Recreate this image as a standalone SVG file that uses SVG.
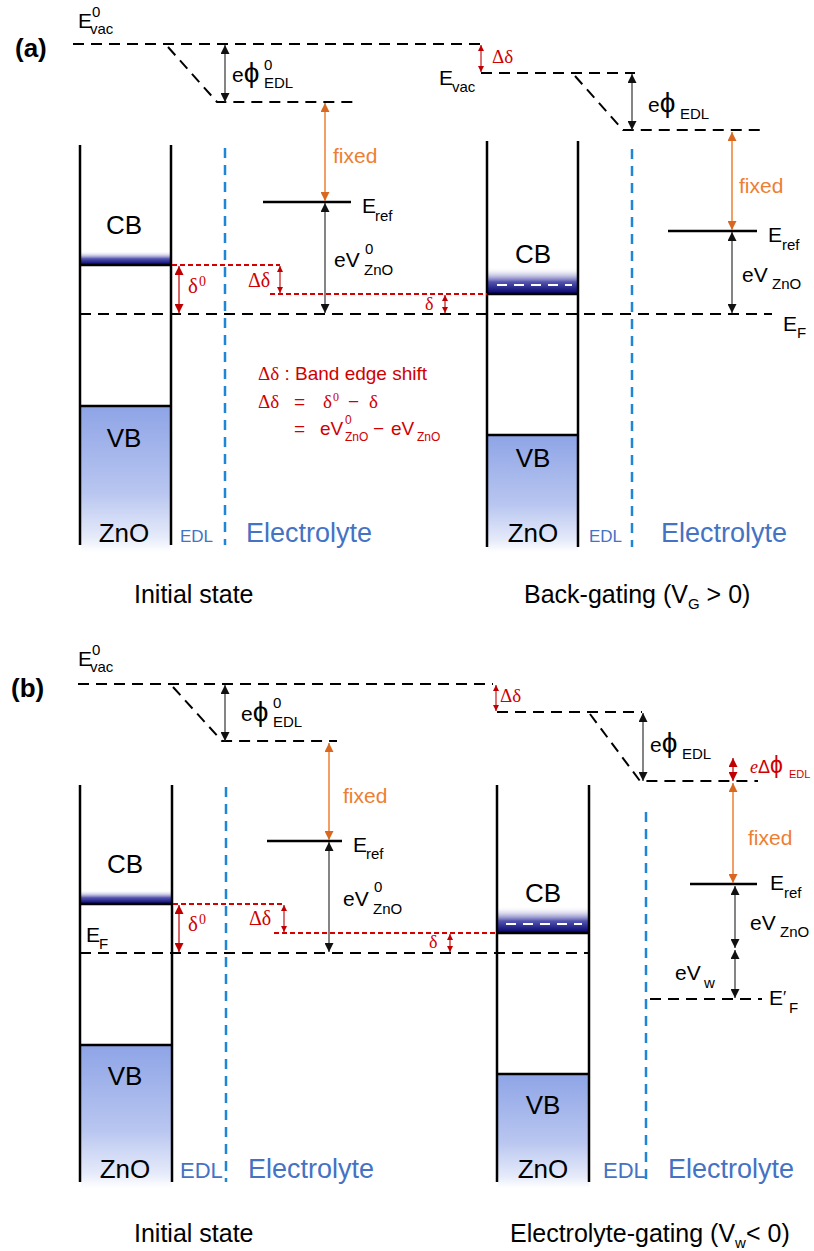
<svg xmlns="http://www.w3.org/2000/svg" width="814" height="1251" viewBox="0 0 814 1251">
<style>
.t{font-family:"Liberation Sans",Arial,"DejaVu Sans",sans-serif;fill:#000}
.s{font-family:"Liberation Serif","Times New Roman","DejaVu Serif",serif}
.red{fill:#D00000}
.org{fill:#EE7E32}
.blu{fill:#4472C4}
.big{font-size:26px}
.lb{font-size:21px}
.sb{font-size:15px}
.phi{font-size:28px}
.dash{stroke:#000;stroke-width:2;stroke-dasharray:11 7;fill:none}
.rdash{stroke:#D40000;stroke-width:1.8;stroke-dasharray:5 3;fill:none}
.bdash{stroke:#1F86D6;stroke-width:2.5;stroke-dasharray:10 7;fill:none}
.wdash{stroke:#fff;stroke-width:2;stroke-dasharray:10 7;fill:none}
.wall{stroke:#000;stroke-width:2.5;fill:none}
.solid{stroke:#000;stroke-width:2.5;fill:none}
.ab{stroke:#333;stroke-width:1.2;fill:none;marker-start:url(#hb);marker-end:url(#hb)}
.ao{stroke:#EE7E32;stroke-width:1.5;fill:none;marker-start:url(#ho);marker-end:url(#ho)}
.ar{stroke:#C00000;stroke-width:1.2;fill:none;marker-start:url(#hr);marker-end:url(#hr)}
.ars{stroke:#C00000;stroke-width:1.1;fill:none;marker-start:url(#hrs);marker-end:url(#hrs)}
</style>
<defs>
<marker id="hb" viewBox="0 0 10 10" refX="10" refY="5" markerWidth="9" markerHeight="9" markerUnits="userSpaceOnUse" orient="auto-start-reverse"><path d="M0,0L10,5L0,10z" fill="#111"/></marker>
<marker id="ho" viewBox="0 0 10 10" refX="10" refY="5" markerWidth="9" markerHeight="9" markerUnits="userSpaceOnUse" orient="auto-start-reverse"><path d="M0,0L10,5L0,10z" fill="#D8681F"/></marker>
<marker id="hr" viewBox="0 0 10 10" refX="10" refY="5" markerWidth="9" markerHeight="9" markerUnits="userSpaceOnUse" orient="auto-start-reverse"><path d="M0,0L10,5L0,10z" fill="#C00000"/></marker>
<marker id="hrs" viewBox="0 0 10 10" refX="10" refY="5" markerWidth="6" markerHeight="6" markerUnits="userSpaceOnUse" orient="auto-start-reverse"><path d="M0,0L10,5L0,10z" fill="#C00000"/></marker>
<linearGradient id="vbg" x1="0" y1="0" x2="0" y2="1"><stop offset="0" stop-color="#8EA4E6"/><stop offset="0.6" stop-color="#B9C6F0"/><stop offset="0.9" stop-color="#E6EBFA"/><stop offset="1" stop-color="#FFFFFF"/></linearGradient>
<linearGradient id="cbg" x1="0" y1="0" x2="0" y2="1"><stop offset="0" stop-color="#FFFFFF" stop-opacity="0"/><stop offset="0.55" stop-color="#5555B0"/><stop offset="1" stop-color="#00006A"/></linearGradient>
</defs>
<rect width="814" height="1251" fill="#fff"/>

<!-- ================= PANEL (a) ================= -->
<g id="panel-a-label"><text class="t" x="15" y="57" font-size="26" font-weight="bold">(a)</text></g>

<g id="a-zno-initial">
<rect x="81" y="406" width="90" height="146" fill="url(#vbg)"/>
<rect x="81" y="251" width="90" height="14" fill="url(#cbg)"/>
<line class="wall" x1="80" y1="145" x2="80" y2="545"/>
<line class="wall" x1="171" y1="145" x2="171" y2="545"/>
<line class="solid" x1="81" y1="265" x2="171" y2="265"/>
<line class="solid" x1="81" y1="406" x2="171" y2="406"/>
<text class="t big" x="124" y="234" text-anchor="middle">CB</text>
<text class="t big" x="124" y="447" text-anchor="middle">VB</text>
<text class="t big" x="124" y="542" text-anchor="middle">ZnO</text>
</g>
<g id="a-edl-initial">
<line class="bdash" x1="225" y1="148" x2="225" y2="545"/>
<text class="t blu" x="180" y="542" font-size="17">EDL</text>
<text class="t blu" x="246" y="542" font-size="27">Electrolyte</text>
</g>

<g id="a-zno-gated">
<rect x="488" y="435" width="90" height="117" fill="url(#vbg)"/>
<rect x="488" y="267" width="90" height="27" fill="url(#cbg)"/>
<line class="wdash" x1="497" y1="285" x2="572" y2="285"/>
<line class="wall" x1="487" y1="141" x2="487" y2="547"/>
<line class="wall" x1="578" y1="141" x2="578" y2="547"/>
<line class="solid" x1="488" y1="294" x2="578" y2="294"/>
<line class="solid" x1="488" y1="435" x2="578" y2="435"/>
<text class="t big" x="533" y="263" text-anchor="middle">CB</text>
<text class="t big" x="533" y="467" text-anchor="middle">VB</text>
<text class="t big" x="533" y="542" text-anchor="middle">ZnO</text>
</g>
<g id="a-edl-gated">
<line class="bdash" x1="632" y1="149" x2="632" y2="547"/>
<text class="t blu" x="589" y="542" font-size="17">EDL</text>
<text class="t blu" x="661" y="542" font-size="27">Electrolyte</text>
</g>

<g id="a-levels">
<path class="dash" d="M73,44H480"/>
<path class="dash" d="M168,47L217,102H353"/>
<path class="dash" d="M481,73H635"/>
<path class="dash" d="M575,76L623,130H760"/>
<line class="solid" x1="263" y1="202" x2="351" y2="202"/>
<line class="solid" x1="668" y1="231" x2="757" y2="231"/>
<path class="dash" d="M80,314H772"/>
<path class="rdash" d="M172,265H280"/>
<path class="rdash" d="M270,294H487"/>
</g>

<g id="a-level-labels">
<text class="t lb" x="78" y="28">E</text><text class="t sb" x="92" y="17">0</text><text class="t sb" x="90" y="34">vac</text>
<text class="t lb" x="439" y="85">E</text><text class="t sb" x="452" y="92">vac</text>
<text class="t lb" x="232" y="82">e<tspan class="phi">ϕ</tspan></text><text class="t sb" x="264" y="70">0</text><text class="t sb" x="264" y="88">EDL</text>
<text class="t lb" x="648" y="112">e<tspan class="phi">ϕ</tspan></text><text class="t sb" x="680" y="119">EDL</text>
<text class="t lb org" x="333" y="163">fixed</text>
<text class="t lb org" x="739" y="193">fixed</text>
<text class="t lb" x="362" y="213">E</text><text class="t sb" x="375" y="221">ref</text>
<text class="t lb" x="768" y="242">E</text><text class="t sb" x="782" y="250">ref</text>
<text class="t lb" x="334" y="267">eV</text><text class="t sb" x="365" y="254">0</text><text class="t sb" x="364" y="275">ZnO</text>
<text class="t lb" x="742" y="282">eV</text><text class="t sb" x="772" y="289">ZnO</text>
<text class="t lb" x="783" y="331">E</text><text class="t sb" x="797" y="338">F</text>
<text class="s red" x="188" y="293" font-size="21">δ</text><text class="s red" x="199" y="286" font-size="14">0</text>
<text class="s red" x="248" y="287" font-size="20">Δδ</text>
<text class="s red" x="425" y="310" font-size="18">δ</text>
<text class="s red" x="492" y="63" font-size="19">Δδ</text>
</g>

<g id="a-note" class="red">
<text x="258" y="380" font-size="19"><tspan class="s">Δδ</tspan><tspan class="t red"> : Band edge shift</tspan></text>
<text class="s red" x="258" y="408" font-size="19">Δδ</text>
<text class="t red" x="294" y="408" font-size="19">=</text>
<text class="s red" x="323" y="408" font-size="19">δ</text><text class="s red" x="333" y="401" font-size="12">0</text>
<text class="t red" x="348" y="408" font-size="19">−</text>
<text class="s red" x="369" y="408" font-size="19">δ</text>
<text class="t red" x="294" y="435" font-size="19">=</text>
<text class="t red" x="320" y="435" font-size="19">eV</text><text class="t red" x="345" y="424" font-size="12">0</text><text class="t red" x="345" y="441" font-size="12">ZnO</text>
<text class="t red" x="373" y="435" font-size="19">−</text>
<text class="t red" x="391" y="435" font-size="19">eV</text><text class="t red" x="417" y="441" font-size="12">ZnO</text>
</g>

<g id="a-captions">
<text class="t" x="134" y="603" font-size="25">Initial state</text>
<text class="t" x="524" y="603" font-size="25">Back-gating (V<tspan font-size="15" dy="6">G</tspan><tspan dy="-6"> &gt; 0)</tspan></text>
</g>

<!-- ================= PANEL (b) ================= -->
<g id="panel-b-label"><text class="t" x="11" y="697" font-size="26" font-weight="bold">(b)</text></g>

<g id="b-zno-initial">
<rect x="81" y="1045" width="91" height="143" fill="url(#vbg)"/>
<rect x="81" y="890" width="91" height="14" fill="url(#cbg)"/>
<line class="wall" x1="80" y1="785" x2="80" y2="1182"/>
<line class="wall" x1="172" y1="785" x2="172" y2="1182"/>
<line class="solid" x1="81" y1="904" x2="172" y2="904"/>
<line class="solid" x1="81" y1="1045" x2="172" y2="1045"/>
<text class="t big" x="125" y="873" text-anchor="middle">CB</text>
<text class="t big" x="125" y="1085" text-anchor="middle">VB</text>
<text class="t big" x="125" y="1178" text-anchor="middle">ZnO</text>
</g>
<g id="b-edl-initial">
<line class="bdash" x1="226" y1="787" x2="226" y2="1182"/>
<text class="t blu" x="180" y="1178" font-size="22">EDL</text>
<text class="t blu" x="248" y="1178" font-size="27">Electrolyte</text>
</g>

<g id="b-zno-gated">
<rect x="498" y="1074" width="91" height="114" fill="url(#vbg)"/>
<rect x="498" y="906" width="91" height="27" fill="url(#cbg)"/>
<line class="wdash" x1="506" y1="924" x2="582" y2="924"/>
<line class="wall" x1="497" y1="785" x2="497" y2="1182"/>
<line class="wall" x1="589" y1="785" x2="589" y2="1182"/>
<line class="solid" x1="498" y1="933" x2="589" y2="933"/>
<line class="solid" x1="498" y1="1074" x2="589" y2="1074"/>
<text class="t big" x="543" y="902" text-anchor="middle">CB</text>
<text class="t big" x="543" y="1114" text-anchor="middle">VB</text>
<text class="t big" x="543" y="1178" text-anchor="middle">ZnO</text>
</g>
<g id="b-edl-gated">
<line class="bdash" x1="646" y1="812" x2="646" y2="1182"/>
<text class="t blu" x="603" y="1178" font-size="22">EDL</text>
<text class="t blu" x="668" y="1178" font-size="27">Electrolyte</text>
</g>

<g id="b-levels">
<path class="dash" d="M78,684H493"/>
<path class="dash" d="M173,687L222,741H337"/>
<path class="dash" d="M497,712H642"/>
<path class="dash" d="M590,714L640,781H758"/>
<line class="solid" x1="267" y1="841" x2="342" y2="841"/>
<line class="solid" x1="690" y1="884" x2="757" y2="884"/>
<path class="dash" d="M80,953H588"/>
<path class="dash" d="M650,999H762"/>
<path class="rdash" d="M173,904H284"/>
<path class="rdash" d="M274,933H497"/>
</g>

<g id="b-level-labels">
<text class="t lb" x="78" y="666">E</text><text class="t sb" x="92" y="655">0</text><text class="t sb" x="90" y="672">vac</text>
<text class="t lb" x="241" y="721">e<tspan class="phi">ϕ</tspan></text><text class="t sb" x="273" y="708">0</text><text class="t sb" x="273" y="727">EDL</text>
<text class="t lb" x="650" y="752">e<tspan class="phi">ϕ</tspan></text><text class="t sb" x="682" y="759">EDL</text>
<text class="red" x="750" y="773" font-size="18"><tspan class="s" font-style="italic">e</tspan><tspan class="t red">Δ</tspan><tspan class="t red" font-size="23">ϕ</tspan></text><text class="t red" x="789" y="778" font-size="11">EDL</text>
<text class="t lb org" x="343" y="803">fixed</text>
<text class="t lb org" x="748" y="845">fixed</text>
<text class="t lb" x="353" y="852">E</text><text class="t sb" x="366" y="859">ref</text>
<text class="t lb" x="770" y="890">E</text><text class="t sb" x="784" y="898">ref</text>
<text class="t lb" x="343" y="906">eV</text><text class="t sb" x="374" y="892">0</text><text class="t sb" x="373" y="914">ZnO</text>
<text class="t lb" x="750" y="930">eV</text><text class="t sb" x="780" y="937">ZnO</text>
<text class="t lb" x="675" y="980">eV</text><text class="t sb" x="704" y="988">w</text>
<text class="t lb" x="86" y="942">E</text><text class="t sb" x="99" y="949">F</text>
<text class="t lb" x="769" y="1005">E<tspan font-size="17" dy="-2">′</tspan></text><text class="t sb" x="789" y="1013">F</text>
<text class="s red" x="188" y="931" font-size="21">δ</text><text class="s red" x="199" y="924" font-size="14">0</text>
<text class="s red" x="249" y="925" font-size="20">Δδ</text>
<text class="s red" x="429" y="948" font-size="18">δ</text>
<text class="s red" x="500" y="702" font-size="19">Δδ</text>
</g>

<g id="b-captions">
<text class="t" x="134" y="1242" font-size="25">Initial state</text>
<text class="t" x="510" y="1242" font-size="25">Electrolyte-gating (V<tspan font-size="15" dy="6">w</tspan><tspan dy="-6">&lt; 0)</tspan></text>
</g>

<!-- ================= CONNECTORS ================= -->
<g id="connectors">
<line class="ab" x1="225" y1="45" x2="225" y2="102"/>
<line class="ao" x1="325" y1="103" x2="325" y2="201"/>
<line class="ab" x1="325" y1="203" x2="325" y2="313"/>
<line class="ar" x1="179" y1="266" x2="179" y2="313"/>
<line class="ars" x1="280" y1="266" x2="280" y2="293"/>
<line class="ars" x1="445" y1="295" x2="445" y2="313"/>
<line class="ars" x1="481" y1="45" x2="481" y2="72"/>
<line class="ab" x1="632" y1="74" x2="632" y2="130"/>
<line class="ao" x1="732" y1="132" x2="732" y2="230"/>
<line class="ab" x1="732" y1="232" x2="732" y2="313"/>

<line class="ab" x1="225" y1="685" x2="225" y2="741"/>
<line class="ao" x1="329" y1="743" x2="329" y2="840"/>
<line class="ab" x1="329" y1="842" x2="329" y2="952"/>
<line class="ar" x1="179" y1="905" x2="179" y2="952"/>
<line class="ars" x1="284" y1="905" x2="284" y2="932"/>
<line class="ars" x1="450" y1="934" x2="450" y2="952"/>
<line class="ars" x1="496" y1="685" x2="496" y2="711"/>
<line class="ab" x1="643" y1="713" x2="643" y2="781"/>
<line class="ar" x1="733" y1="758" x2="733" y2="781"/>
<line class="ao" x1="733" y1="783" x2="733" y2="883"/>
<line class="ab" x1="735" y1="886" x2="735" y2="948"/>
<line class="ab" x1="735" y1="950" x2="735" y2="998"/>
</g>
</svg>
